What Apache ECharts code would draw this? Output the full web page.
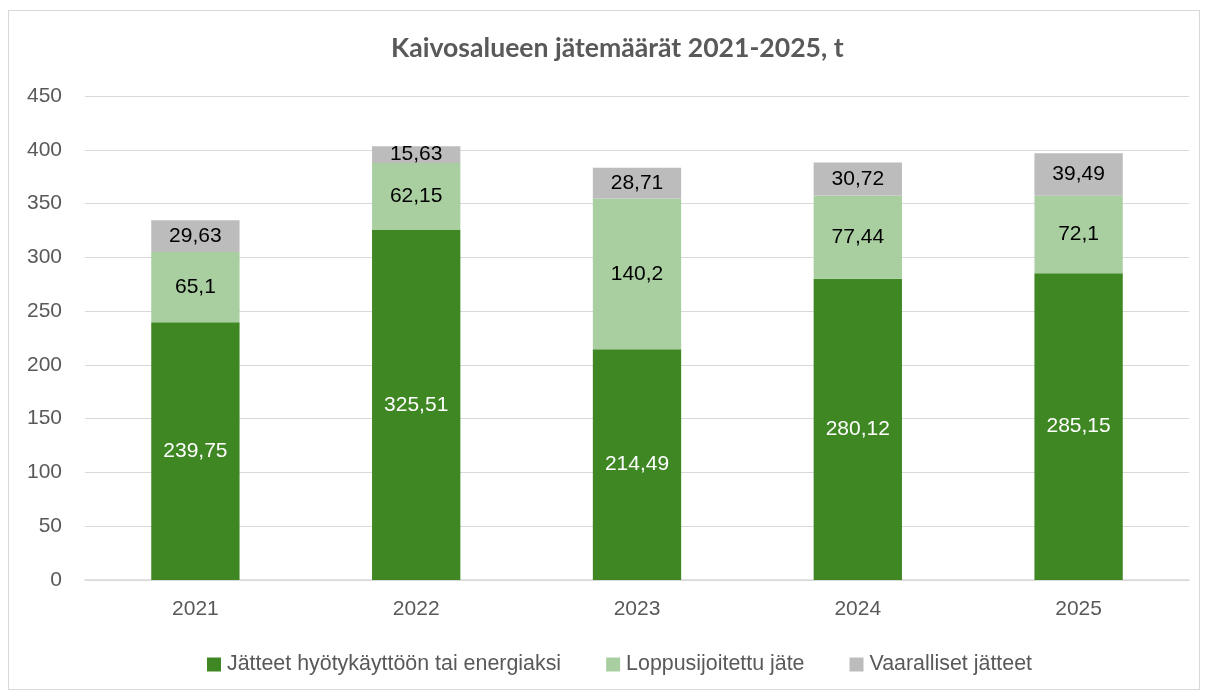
<!DOCTYPE html>
<html lang="fi">
<head>
    <meta charset="UTF-8">
    <script src="https://cdn.jsdelivr.net/npm/echarts@6/dist/echarts.min.js"></script>
    <style>
        html, body { margin: 0; padding: 0; background: #fff; }
        #frame { position: absolute; left: 8px; top: 10px; width: 1192px; height: 680px; border: 1px solid #d9d9d9; box-sizing: border-box; }
        #chart { width: 1205px; height: 695px; }
    </style>
</head>
<body>
    <div id="frame"></div>
    <div id="chart"></div>
    <script>
        // aineisto
        const years = ['2021', '2022', '2023', '2024', '2025']
        const hyotykaytto = [239.75, 325.51, 214.49, 280.12, 285.15]
        const loppusijoitus = [65.1, 62.15, 140.2, 77.44, 72.1]
        const vaaralliset = [29.63, 15.63, 28.71, 30.72, 39.49]
        const seriesNames = ['Jätteet hyötykäyttöön tai energiaksi', 'Loppusijoitettu jäte', 'Vaaralliset jätteet']

        const sans = '"Liberation Sans", Arial, sans-serif'
        const fmt = p => String(p.value).replace('.', ',')

        function bar(name, data, color, labelColor) {
            return {
                name: name,
                type: 'bar',
                stack: 'total',
                barWidth: '40%',
                data: data,
                itemStyle: { color: color },
                label: {
                    show: true,
                    position: 'inside',
                    color: labelColor,
                    fontFamily: sans,
                    fontSize: 21,
                    formatter: fmt
                }
            }
        }

        const myChart = echarts.init(document.getElementById('chart'))
        myChart.setOption({
            animation: false,
            title: {
                text: 'Kaivosalueen jätemäärät 2021-2025, t',
                left: 386,
                top: 30,
                textStyle: { fontFamily: 'Lato, sans-serif', fontSize: 26.6, fontWeight: 'bold', color: '#595959' }
            },
            legend: {
                top: 649,
                left: 202,
                icon: 'rect',
                itemWidth: 14,
                itemHeight: 14,
                itemGap: 45,
                textStyle: { fontFamily: sans, fontSize: 21.4, color: '#595959', padding: [0, 0, 0, 1] }
            },
            grid: { left: 85, right: 16, top: 96, bottom: 115 },
            xAxis: {
                type: 'category',
                data: years,
                axisTick: { show: false },
                axisLine: { lineStyle: { color: '#d9d9d9', width: 1.5 } },
                axisLabel: { fontFamily: sans, fontSize: 21, color: '#595959', margin: 19 }
            },
            yAxis: {
                type: 'value',
                min: 0,
                max: 450,
                interval: 50,
                axisLabel: { fontFamily: sans, fontSize: 21, color: '#595959', margin: 23 },
                splitLine: { lineStyle: { color: '#d9d9d9' } }
            },
            series: [
                bar(seriesNames[0], hyotykaytto, '#3e8723', '#ffffff'),
                bar(seriesNames[1], loppusijoitus, '#a9cfa0', '#000000'),
                bar(seriesNames[2], vaaralliset, '#bcbcbc', '#000000')
            ]
        })
    </script>
</body>
</html>
